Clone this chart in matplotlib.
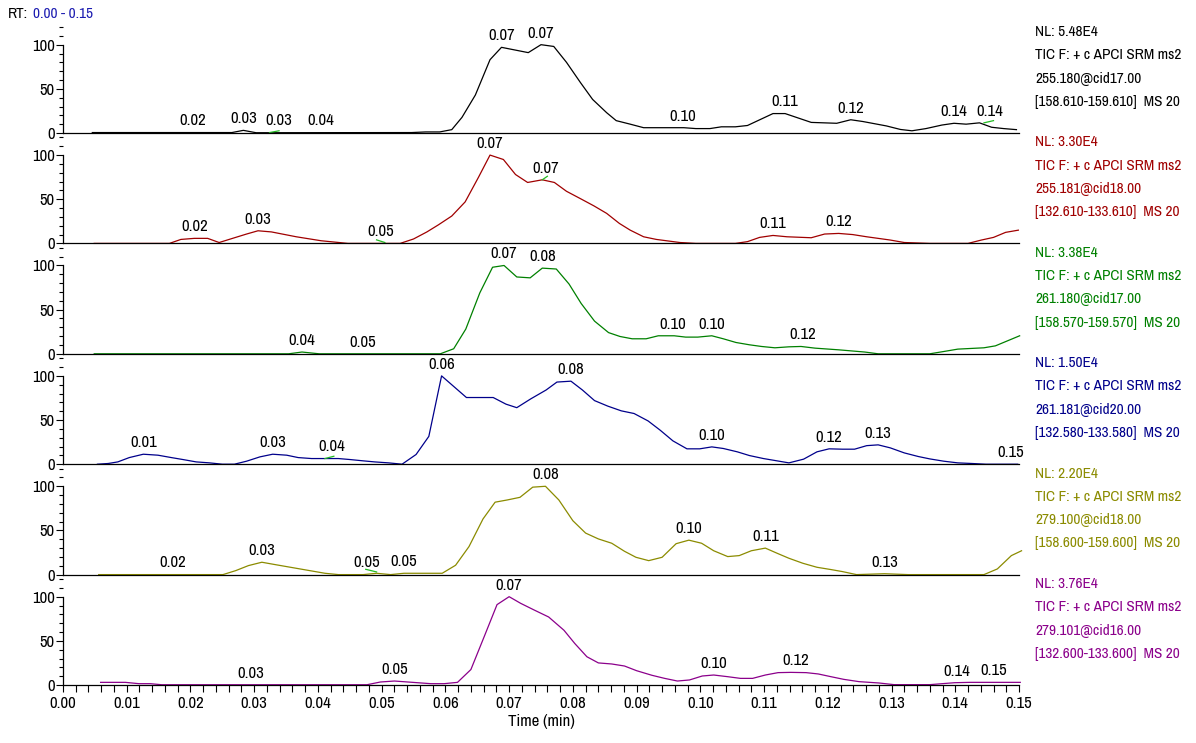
import matplotlib
matplotlib.use("Agg")
import matplotlib.pyplot as plt
from matplotlib.ticker import MultipleLocator, FixedLocator

plt.rcParams['font.family'] = ['Archivo Narrow', 'PT Sans Narrow', 'Liberation Sans', 'DejaVu Sans']

# ---- data (time in min, relative abundance %) ----
t1 = [0.0046, 0.0265, 0.0283, 0.0303, 0.0547, 0.0569, 0.0591, 0.0610, 0.0626, 0.0647,
      0.0670, 0.0688, 0.0709, 0.0730, 0.0750, 0.0770, 0.0790, 0.0812, 0.0831, 0.0853,
      0.0868, 0.0890, 0.0911, 0.0931, 0.0974, 0.0993, 0.1015, 0.1033, 0.1055, 0.1074,
      0.1114, 0.1133, 0.1174, 0.1214, 0.1236, 0.1255, 0.1292, 0.1314, 0.1332, 0.1354,
      0.1379, 0.1398, 0.1417, 0.1438, 0.1457, 0.1476, 0.1496]
v1 = [0.5, 0.5, 3, 0.3, 0.5, 1.2, 1.2, 3.8, 17.7, 43,
      83, 97, 94, 91, 100, 98, 80, 57, 38, 23,
      14, 10, 6, 6, 6, 5, 5, 7, 7, 8.5,
      22, 22, 12, 11, 15, 13, 8, 4, 2.5, 5,
      9, 11, 10, 11.5, 6.5, 5, 3.8]

t2 = [0.0049, 0.0167, 0.0185, 0.0206, 0.0227, 0.0245, 0.0266, 0.0288, 0.0306, 0.0327,
      0.0366, 0.0405, 0.0447, 0.0529, 0.0550, 0.0571, 0.0589, 0.0610, 0.0631, 0.0652,
      0.0670, 0.0691, 0.0710, 0.0729, 0.0752, 0.0771, 0.0790, 0.0811, 0.0833, 0.0853,
      0.0873, 0.0890, 0.0911, 0.0931, 0.0968, 0.0993, 0.1055, 0.1074, 0.1093, 0.1114,
      0.1136, 0.1174, 0.1195, 0.1217, 0.1239, 0.1261, 0.1298, 0.1320, 0.1360, 0.1420,
      0.1441, 0.1460, 0.1479, 0.1499]
v2 = [0, 0, 4.5, 5.7, 5.7, 1, 5.7, 10.6, 14.3, 13,
      7.5, 3, 0, 0, 5, 13, 21, 31, 47, 75,
      100, 95, 78, 69, 72, 69, 59, 51, 42.5, 34,
      22.6, 15, 7.5, 4.5, 1, 0, 0, 2, 6.8, 9,
      7.5, 6.4, 10.6, 11.3, 10, 7.5, 3.8, 1, 0, 0,
      3.8, 6.8, 12.5, 15]

t3 = [0.0049, 0.0354, 0.0375, 0.0402, 0.0592, 0.0613, 0.0632, 0.0654, 0.0674, 0.0692,
      0.0712, 0.0733, 0.0752, 0.0774, 0.0794, 0.0813, 0.0834, 0.0856, 0.0874, 0.0893,
      0.0915, 0.0934, 0.0959, 0.0977, 0.0996, 0.1018, 0.1036, 0.1056, 0.1077, 0.1096,
      0.1117, 0.1139, 0.1158, 0.1180, 0.1217, 0.1258, 0.1279, 0.1360, 0.1382, 0.1404,
      0.1445, 0.1463, 0.1482, 0.1501]
v3 = [0, 0, 2, 0, 0, 5.7, 28, 69, 98, 100,
      87, 86, 97, 96, 79, 57, 37, 24, 19.6, 17,
      17, 20.4, 20.4, 18.9, 18.9, 20.4, 17, 12.8, 10.2, 8.3,
      6.8, 7.9, 8.3, 6.4, 4.5, 2, 0, 0, 2.6, 5.3,
      6.8, 9, 14.7, 20.4]

t4 = [0.0054, 0.0071, 0.0086, 0.0104, 0.0126, 0.0149, 0.0170, 0.0188, 0.0209, 0.0230,
      0.0250, 0.0269, 0.0288, 0.0309, 0.0329, 0.0351, 0.0369, 0.0390, 0.0411, 0.0432,
      0.0450, 0.0471, 0.0489, 0.0511, 0.0532, 0.0554, 0.0574, 0.0594, 0.0633, 0.0675,
      0.0695, 0.0712, 0.0734, 0.0758, 0.0775, 0.0797, 0.0815, 0.0834, 0.0855, 0.0876,
      0.0896, 0.0918, 0.0937, 0.0957, 0.0979, 0.0999, 0.1018, 0.1036, 0.1058, 0.1077,
      0.1099, 0.1117, 0.1139, 0.1162, 0.1183, 0.1202, 0.1223, 0.1242, 0.1261, 0.1279,
      0.1298, 0.1320, 0.1342, 0.1360, 0.1382, 0.1404, 0.1426, 0.1448, 0.1498]
v4 = [0, 0.8, 2.6, 7.5, 11.3, 10.2, 7.5, 5.3, 2.6, 1.5,
      0, 0, 3.4, 8.3, 11.3, 10.2, 7.5, 6.4, 6.4, 6.4,
      5.3, 3.8, 2.6, 1.5, 0, 11, 31.5, 100, 75.5, 75.5,
      68, 64, 74, 84, 93, 94, 84, 72, 65.7, 60.4,
      57.4, 49, 38.5, 26.4, 17.4, 17.4, 19.6, 17.8, 14, 9.8,
      6.4, 4.2, 1.5, 5.7, 14, 17.4, 17, 17, 21, 21.9,
      18.5, 12.8, 8.7, 6, 3.4, 1.5, 0.8, 0, 0]

t5 = [0.0056, 0.0251, 0.0271, 0.0291, 0.0312, 0.0333, 0.0372, 0.0411, 0.0432, 0.0471,
      0.0492, 0.0514, 0.0535, 0.0595, 0.0616, 0.0637, 0.0659, 0.0678, 0.0697, 0.0717,
      0.0737, 0.0757, 0.0778, 0.0800, 0.0820, 0.0840, 0.0861, 0.0881, 0.0899, 0.0919,
      0.0940, 0.0962, 0.0982, 0.1002, 0.1021, 0.1043, 0.1061, 0.1080, 0.1102, 0.1121,
      0.1139, 0.1161, 0.1183, 0.1205, 0.1223, 0.1245, 0.1289, 0.1326, 0.1445, 0.1466,
      0.1488, 0.1504]
v5 = [0, 0, 4.5, 10.2, 14, 11.3, 6.4, 1.5, 0, 0,
      1.5, 0, 1.5, 1.5, 10.6, 31.7, 63, 82, 84.5, 87.5,
      99, 100, 84.5, 61, 47, 40.4, 35.5, 26.4, 19.6, 15.8,
      19.6, 35, 39, 35.5, 27, 20.4, 21.5, 27, 30, 24,
      18.5, 12.8, 8.3, 5.7, 3.4, 0, 1, 0, 0, 6.4,
      21.5, 27]

t6 = [0.0059, 0.0098, 0.0119, 0.0137, 0.0155, 0.0477, 0.0498, 0.0520, 0.0541, 0.0577,
      0.0598, 0.0619, 0.0640, 0.0661, 0.0681, 0.0700, 0.0718, 0.0739, 0.0762, 0.0786,
      0.0803, 0.0822, 0.0840, 0.0861, 0.0881, 0.0900, 0.0924, 0.0944, 0.0964, 0.0983,
      0.1003, 0.1021, 0.1043, 0.1063, 0.1082, 0.1102, 0.1122, 0.1142, 0.1166, 0.1185,
      0.1205, 0.1225, 0.1249, 0.1280, 0.1304, 0.1360, 0.1399, 0.1423, 0.1447, 0.1502]
v6 = [3, 3, 1.5, 1.5, 0.3, 0.3, 3.4, 4.5, 3.4, 1.5,
      1.5, 3, 17.5, 55, 91, 100, 92.5, 85, 77, 62,
      47, 32, 25, 23.8, 21.5, 16.2, 11, 7.5, 4.5, 5.7,
      10.2, 11.3, 9.4, 7.5, 7.5, 11.3, 14, 14.3, 14, 12.5,
      9.4, 6.4, 3.8, 2.3, 0.4, 0.4, 2.6, 3, 3, 3]

# peak labels: time, height, text
pk1_t = [0.0203, 0.0283, 0.0339, 0.0405, 0.0688, 0.0750, 0.0973, 0.1133, 0.1236, 0.1398, 0.1454]
pk1_v = [0.5, 3, 0.8, 0.5, 97, 100, 6, 22, 15, 11, 11.5]
pk1_s = ['0.02', '0.03', '0.03', '0.04', '0.07', '0.07', '0.10', '0.11', '0.12', '0.14', '0.14']

pk2_t = [0.0206, 0.0306, 0.0498, 0.0670, 0.0758, 0.1114, 0.1217]
pk2_v = [5.7, 14.3, 0.5, 100, 72, 9, 11.3]
pk2_s = ['0.02', '0.03', '0.05', '0.07', '0.07', '0.11', '0.12']

pk3_t = [0.0375, 0.0470, 0.0692, 0.0752, 0.0957, 0.1018, 0.1160]
pk3_v = [2, 0, 100, 97, 20.4, 20.4, 8.3]
pk3_s = ['0.04', '0.05', '0.07', '0.08', '0.10', '0.10', '0.12']

pk4_t = [0.0126, 0.0329, 0.0421, 0.0594, 0.0797, 0.1018, 0.1202, 0.1279, 0.1487]
pk4_v = [11.3, 11.3, 6.4, 100, 94, 19.6, 17.4, 21.9, 0]
pk4_s = ['0.01', '0.03', '0.04', '0.06', '0.08', '0.10', '0.12', '0.13', '0.15']

pk5_t = [0.0172, 0.0312, 0.0477, 0.0535, 0.0757, 0.0982, 0.1102, 0.1289]
pk5_v = [0, 14, 0, 1.5, 100, 39, 30, 1]
pk5_s = ['0.02', '0.03', '0.05', '0.05', '0.08', '0.10', '0.11', '0.13']

pk6_t = [0.0294, 0.0520, 0.0700, 0.1021, 0.1150, 0.1403, 0.1461]
pk6_v = [0, 4.5, 100, 11.3, 14.3, 2.6, 3]
pk6_s = ['0.03', '0.05', '0.07', '0.10', '0.12', '0.14', '0.15']

# small green peak-start marks: panel, t0, v0, t1, v1
mk_panel = [0, 0, 1, 1, 3, 4]
mk_t0 = [0.0324, 0.1445, 0.0492, 0.0752, 0.0411, 0.0475]
mk_v0 = [0.5, 11.5, 4, 72, 6.4, 6]
mk_t1 = [0.0339, 0.1460, 0.0505, 0.0760, 0.0425, 0.0492]
mk_v1 = [2.5, 14, 1, 76, 9, 3]

nl = ['5.48E4', '3.30E4', '3.38E4', '1.50E4', '2.20E4', '3.76E4']
precursor = ['255.180@cid17.00', '255.181@cid18.00', '261.180@cid17.00',
             '261.181@cid20.00', '279.100@cid18.00', '279.101@cid16.00']
mass_range = ['[158.610-159.610]', '[132.610-133.610]', '[158.570-159.570]',
              '[132.580-133.580]', '[158.600-159.600]', '[132.600-133.600]']

traces = [(t1, v1), (t2, v2), (t3, v3), (t4, v4), (t5, v5), (t6, v6)]
peaks = [(pk1_t, pk1_v, pk1_s), (pk2_t, pk2_v, pk2_s), (pk3_t, pk3_v, pk3_s),
         (pk4_t, pk4_v, pk4_s), (pk5_t, pk5_v, pk5_s), (pk6_t, pk6_v, pk6_s)]
colors = ['black', '#a00000', '#008000', '#00008b', '#8b8b00', '#8b008b']

W, H = 1196, 743
x_left, x_right = 63, 1019
base0, step = 133, 110.4
fs = 12      # ticks and peak labels
fs_side = 11  # scan description on the right

fig = plt.figure(figsize=(W / 100, H / 100), dpi=100)

axes = []
for k in range(6):
    base = base0 + step * k
    ax = fig.add_axes([x_left / W, 1 - base / H, (x_right - x_left) / W, step / H])
    axes.append(ax)
    ax.patch.set_visible(False)
    t, v = traces[k]
    ax.plot(t, v, color=colors[k], lw=0.9, clip_on=False)
    ax.set_xlim(0, 0.15)
    ax.set_ylim(0, 125)
    for s in ['top', 'right']:
        ax.spines[s].set_visible(False)
    for s in ['left', 'bottom']:
        ax.spines[s].set_linewidth(0.9)
    ax.spines['left'].set_bounds(0, 100)
    ax.yaxis.set_major_locator(FixedLocator([0, 50, 100]))
    ax.yaxis.set_minor_locator(MultipleLocator(10))
    ax.tick_params(axis='y', which='major', length=5, width=0.8, pad=1, labelsize=fs)
    ax.tick_params(axis='y', which='minor', length=3, width=0.8)
    if k < 5:
        ax.tick_params(axis='x', which='both', bottom=False, labelbottom=False)
    else:
        ax.xaxis.set_major_locator(MultipleLocator(0.01))
        ax.xaxis.set_minor_locator(MultipleLocator(0.002))
        ax.xaxis.set_major_formatter(plt.FuncFormatter(lambda x, p: f'{x:.2f}'))
        ax.tick_params(axis='x', which='major', length=5, width=0.8, pad=3, labelsize=fs)
        ax.tick_params(axis='x', which='minor', length=5, width=0.8)
        ax.set_xlabel('Time (min)', fontsize=fs, labelpad=2)

    pt, pv, ps = peaks[k]
    for x, y, s in zip(pt, pv, ps):
        ax.annotate(s, (x, y), xytext=(0, 3), textcoords='offset points',
                    ha='center', va='bottom', fontsize=fs, color='black',
                    annotation_clip=False, zorder=5)

    lines = ['NL: ' + nl[k], 'TIC F: + c APCI SRM ms2', precursor[k],
             mass_range[k] + '  MS 20']
    for i, line in enumerate(lines):
        ax.text(1.0167, (101 - 23.3 * i) / step, line, transform=ax.transAxes,
                ha='left', va='center', fontsize=fs_side, color=colors[k])

for p, a0, b0, a1, b1 in zip(mk_panel, mk_t0, mk_v0, mk_t1, mk_v1):
    axes[p].plot([a0, a1], [b0, b1], color='#22bb22', lw=0.9, clip_on=False)

fig.text(8 / W, 1 - 14 / H, 'RT:', ha='left', va='center', fontsize=fs_side, color='black')
fig.text(33 / W, 1 - 14 / H, '0.00 - 0.15', ha='left', va='center', fontsize=fs_side, color='#1a1ab0')

fig.savefig('out.png', dpi=100)
